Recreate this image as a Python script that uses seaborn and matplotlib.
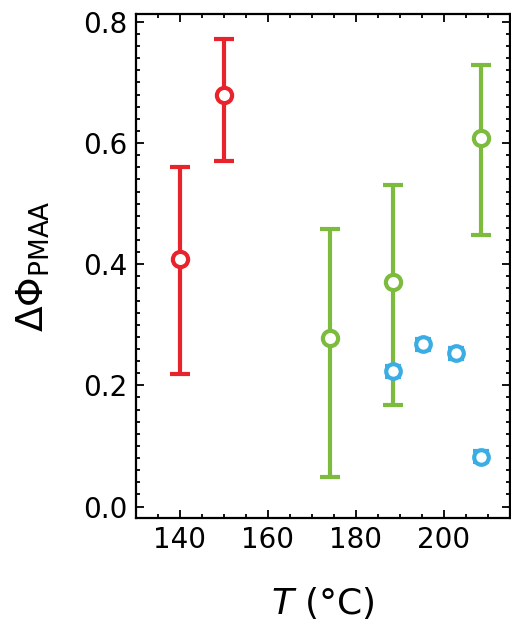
import numpy as np
import pandas as pd
import matplotlib
matplotlib.use("Agg")
import matplotlib.pyplot as plt
from matplotlib.ticker import MultipleLocator
import seaborn as sns

# data
red_T = [140, 150]
red_val = [0.408, 0.680]
red_lo = [0.218, 0.571]
red_hi = [0.560, 0.771]

green_T = [174, 188.4, 208.5]
green_val = [0.278, 0.370, 0.608]
green_lo = [0.048, 0.168, 0.448]
green_hi = [0.458, 0.530, 0.729]

blue_T = [188.4, 195.3, 202.7, 208.5]
blue_val = [0.223, 0.268, 0.253, 0.082]
blue_err = [0.009, 0.009, 0.009, 0.009]

RED = "#E8232B"
GREEN = "#7CBB3D"
BLUE = "#3AADE5"

sns.set_theme(style="ticks")
plt.rcParams['font.family'] = ['DejaVu Sans']
plt.rcParams['mathtext.fontset'] = 'dejavusans'

fig = plt.figure(figsize=(5.11, 6.23), dpi=100)
ax = fig.add_axes([0.266, 0.1685, 0.732, 0.809])

def bars(T, v, lo, hi, color, cap, lw):
    v = np.array(v); lo = np.array(lo); hi = np.array(hi)
    ax.errorbar(T, v, yerr=[v - lo, hi - v], fmt="none", ecolor=color,
                elinewidth=lw, capsize=cap, capthick=lw, zorder=2)

bars(red_T, red_val, red_lo, red_hi, RED, 7, 3.0)
bars(green_T, green_val, green_lo, green_hi, GREEN, 7, 3.0)
bv = np.array(blue_val); be = np.array(blue_err)
bars(blue_T, blue_val, bv - be, bv + be, BLUE, 6, 3.0)

df = pd.DataFrame({
    "T": red_T + green_T + blue_T,
    "v": red_val + green_val + blue_val,
    "g": ["r"] * len(red_T) + ["g"] * len(green_T) + ["b"] * len(blue_T),
})
for g, col, ms in [("r", RED, 120), ("g", GREEN, 120), ("b", BLUE, 110)]:
    sub = df[df.g == g]
    sns.scatterplot(data=sub, x="T", y="v", ax=ax, s=ms, marker="o",
                    facecolor="white", edgecolor=col, linewidth=3.0,
                    zorder=3, legend=False)

ax.set_xlim(130, 215)
ax.set_ylim(-0.019, 0.813)
ax.xaxis.set_major_locator(MultipleLocator(20))
ax.xaxis.set_minor_locator(MultipleLocator(5))
ax.yaxis.set_major_locator(MultipleLocator(0.2))
ax.yaxis.set_minor_locator(MultipleLocator(0.02))
ax.set_xticks([140, 160, 180, 200])
ax.set_xticklabels(["140", "160", "180", "200"])
ax.set_yticks([0.0, 0.2, 0.4, 0.6, 0.8])
ax.set_yticklabels(["0.0", "0.2", "0.4", "0.6", "0.8"])

ax.tick_params(which="both", direction="in", top=True, right=True,
               color="black", width=1.3)
ax.tick_params(which="major", length=6, labelsize=20, pad=6,
               labelcolor="black")
ax.tick_params(which="minor", length=3)
for s in ax.spines.values():
    s.set_linewidth(1.6)
    s.set_color("black")
    s.set_visible(True)

ax.set_xlabel(r"$\mathit{T}$ (°C)", fontsize=26, labelpad=22, color="black")
ax.set_ylabel(r"$\Delta\Phi_{\mathrm{PMAA}}$", fontsize=27, color="black")
ax.yaxis.set_label_coords(-0.225, 0.5)

fig.savefig("out.png", dpi=100)
